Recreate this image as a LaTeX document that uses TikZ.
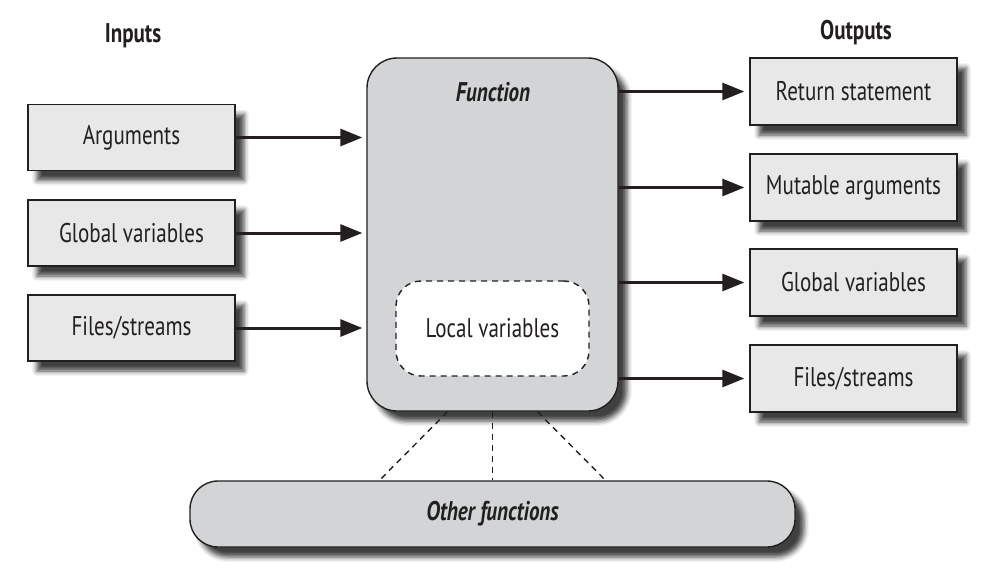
\documentclass[tikz,border=0pt]{standalone}
\usepackage{fontspec}
\setmainfont{PT Sans}[FakeStretch=0.78]
\usepackage{xcolor}
\usepackage{tikz}
\usetikzlibrary{arrows.meta,shadows.blur}

\definecolor{boxgray}{RGB}{232,232,232}
\definecolor{fungray}{RGB}{211,212,214}
\definecolor{ink}{RGB}{35,31,32}

\begin{document}
\begin{tikzpicture}[x=1pt, y=-1pt, >={Triangle[length=22pt,width=17pt]},
        every node/.style={text=ink, font=\fontsize{27}{30}\selectfont},
        shade/.style={blur shadow={shadow xshift=9pt, shadow yshift=-10pt,
            shadow blur radius=5pt, shadow opacity=75}},
        io/.style={rectangle, draw=ink, line width=1.4pt, fill=boxgray, shade,
            minimum width=207pt, minimum height=66pt},
        flow/.style={->, draw=ink, line width=3pt},
        link/.style={draw=ink, line width=1.4pt, dash pattern=on 6pt off 5pt}]

        \useasboundingbox (0,0) rectangle (992,578);

        % headings
        \node[font=\fontsize{27}{30}\selectfont\bfseries] (inlabel) at (133,36) {Inputs};
        \node[font=\fontsize{27}{30}\selectfont\bfseries] (outlabel) at (856,33) {Outputs};

        % the function and its locals
        \node[rectangle, rounded corners=30pt, draw=ink, line width=1.4pt, fill=fungray,
            shade, minimum width=251pt, minimum height=353pt] (fun) at (492.5,234.5) {};
        \node[font=\fontsize{27}{30}\selectfont\bfseries\itshape] (funlabel) at (493,92) {Function};
        \node[rectangle, rounded corners=25pt, draw=ink, line width=1.4pt, fill=white,
            dash pattern=on 6pt off 5pt, minimum width=193pt, minimum height=95pt]
            (local) at (492.5,328.5) {Local variables};

        % inputs
        \node[io] (args) at (131.5,137.5) {Arguments};
        \node[io] (gin) at (131.5,233) {Global variables};
        \node[io] (fin) at (131.5,328) {Files/streams};

        % outputs
        \node[io, minimum height=67pt] (ret) at (853.5,91.5) {Return statement};
        \node[io, minimum height=67pt] (mut) at (853.5,187.5) {Mutable arguments};
        \node[io, minimum height=67pt] (gout) at (853.5,282.5) {Global variables};
        \node[io, minimum height=67pt] (fout) at (853.5,378.5) {Files/streams};

        % other functions
        \node[rectangle, rounded corners=28pt, draw=ink, line width=1.4pt, fill=fungray,
            shade, minimum width=605pt, minimum height=66pt,
            font=\fontsize{27}{30}\selectfont\bfseries\itshape] (other) at (492.5,514) {Other functions};

        \draw[flow, shorten >=4pt] (args.east) -- (args.east -| fun.west);
        \draw[flow, shorten >=4pt] (gin.east) -- (gin.east -| fun.west);
        \draw[flow, shorten >=4pt] (fin.east) -- (fin.east -| fun.west);

        \draw[flow, shorten >=5pt] (fun.east |- ret.west) -- (ret.west);
        \draw[flow, shorten >=5pt] (fun.east |- mut.west) -- (mut.west);
        \draw[flow, shorten >=5pt] (fun.east |- gout.west) -- (gout.west);
        \draw[flow, shorten >=5pt] (fun.east |- fout.west) -- (fout.west);

        \draw[link] ([xshift=-45pt]fun.south) -- ([xshift=-113pt]other.north);
        \draw[link] (fun.south) -- (other.north);
        \draw[link] ([xshift=45pt]fun.south) -- ([xshift=113pt]other.north);

    \end{tikzpicture}
\end{document}
